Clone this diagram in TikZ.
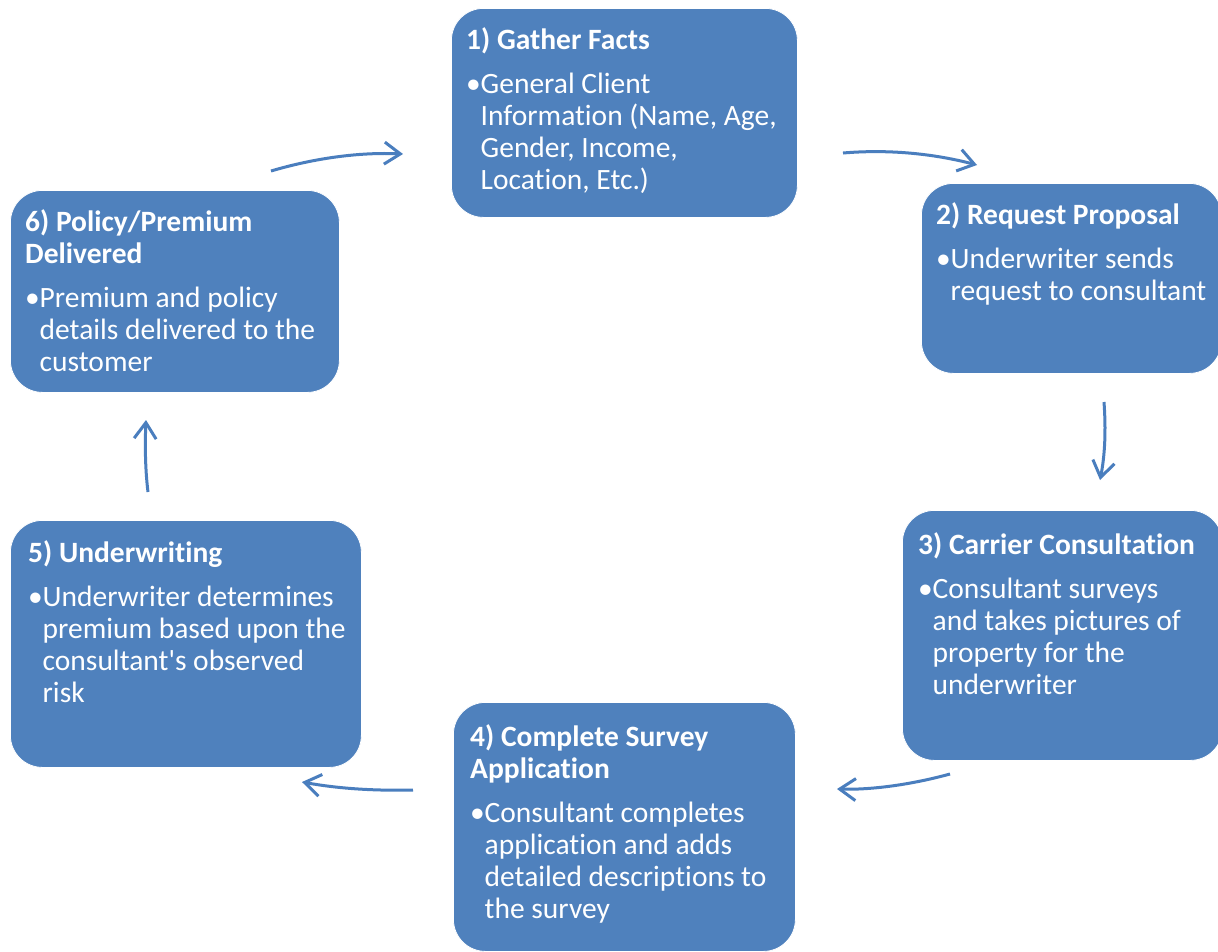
\documentclass[tikz,border=0pt]{standalone}
\usepackage{fontspec}
\setmainfont{Carlito}[Ligatures={TeXOff,NoCommon}]
\usetikzlibrary{arrows.meta}
\definecolor{boxblue}{HTML}{4F81BD}
\definecolor{arrblue}{HTML}{4A7EBE}
\tikzset{
  stepbox/.style={fill=boxblue, draw=white, line width=0.8pt, rounded corners=32pt, inner sep=0pt, anchor=north west},
  txt/.style={text=white, inner sep=0pt, anchor=north west, font=\fontsize{29.5}{32}\selectfont},
  flow/.style={draw=arrblue, line width=3pt, -{Straight Barb[length=16pt,width=22pt,line width=3pt]}}
}
\newcommand{\bul}{\makebox[14.5pt][l]{\textbullet}}
\begin{document}
\begin{tikzpicture}[x=1pt,y=-1pt]
\clip (0,0) rectangle (1218,951);
\fill[white] (0,0) rectangle (1218,951);
% boxes
\node[stepbox, minimum width=346pt, minimum height=209pt] (b1) at (451,8) {};
\node[stepbox, minimum width=300pt, minimum height=190pt] (b2) at (921,183) {};
\node[stepbox, minimum width=320pt, minimum height=250pt] (b3) at (902,510) {};
\node[stepbox, minimum width=342pt, minimum height=249pt] (b4) at (453,702) {};
\node[stepbox, minimum width=351pt, minimum height=247pt] (b5) at (10,520) {};
\node[stepbox, minimum width=329pt, minimum height=202pt] (b6) at (10,190) {};
% texts
\node[txt] (t1) at (466,26.6) {\begin{tabular}{@{}l@{}l@{}}\multicolumn{2}{@{}l@{}}{\bfseries 1) Gather Facts}\\[12.5pt]
\bul & General Client\\ & Information (Name, Age,\\ & Gender, Income,\\ & Location, Etc.)\end{tabular}};
\node[txt] (t2) at (936,201.6) {\begin{tabular}{@{}l@{}l@{}}\multicolumn{2}{@{}l@{}}{\bfseries 2) Request Proposal}\\[12.5pt]
\bul & Underwriter sends\\ & request to consultant\end{tabular}};
\node[txt] (t3) at (918,531.6) {\begin{tabular}{@{}l@{}l@{}}\multicolumn{2}{@{}l@{}}{\bfseries 3) Carrier Consultation}\\[12.5pt]
\bul & Consultant surveys\\ & and takes pictures of\\ & property for the\\ & underwriter\end{tabular}};
\node[txt] (t4) at (470,723.6) {\begin{tabular}{@{}l@{}l@{}}\multicolumn{2}{@{}l@{}}{\bfseries 4) Complete Survey}\\
\multicolumn{2}{@{}l@{}}{\bfseries Application}\\[12.5pt]
\bul & Consultant completes\\ & application and adds\\ & detailed descriptions to\\ & the survey\end{tabular}};
\node[txt] (t5) at (28,539.6) {\begin{tabular}{@{}l@{}l@{}}\multicolumn{2}{@{}l@{}}{\bfseries 5) Underwriting}\\[12.5pt]
\bul & Underwriter determines\\ & premium based upon the\\ & consultant's observed\\ & risk\end{tabular}};
\node[txt] (t6) at (25,208.6) {\begin{tabular}{@{}l@{}l@{}}\multicolumn{2}{@{}l@{}}{\bfseries 6) Policy/Premium}\\
\multicolumn{2}{@{}l@{}}{\bfseries Delivered}\\[12.5pt]
\bul & Premium and policy\\ & details delivered to the\\ & customer\end{tabular}};
% connector end points
\coordinate (a1s) at (843,153); \coordinate (a1e) at (977,165);
\coordinate (a2s) at (1104,402); \coordinate (a2e) at (1100,480);
\coordinate (a3s) at (950,774); \coordinate (a3e) at (837,789);
\coordinate (a4s) at (413,790); \coordinate (a4e) at (302,782);
\coordinate (a5s) at (148,492); \coordinate (a5e) at (146,420);
\coordinate (a6s) at (271,171); \coordinate (a6e) at (403,154);
\draw[flow] (a1s) .. controls (890,149) and (935,154) .. (a1e);
\draw[flow] (a2s) .. controls (1106,430) and (1105,455) .. (a2e);
\draw[flow] (a3s) .. controls (910,785) and (870,790) .. (a3e);
\draw[flow] (a4s) .. controls (370,791) and (335,788) .. (a4e);
\draw[flow] (a5s) .. controls (145,468) and (145,442) .. (a5e);
\draw[flow] (a6s) .. controls (315,158) and (360,152) .. (a6e);
\end{tikzpicture}
\end{document}
